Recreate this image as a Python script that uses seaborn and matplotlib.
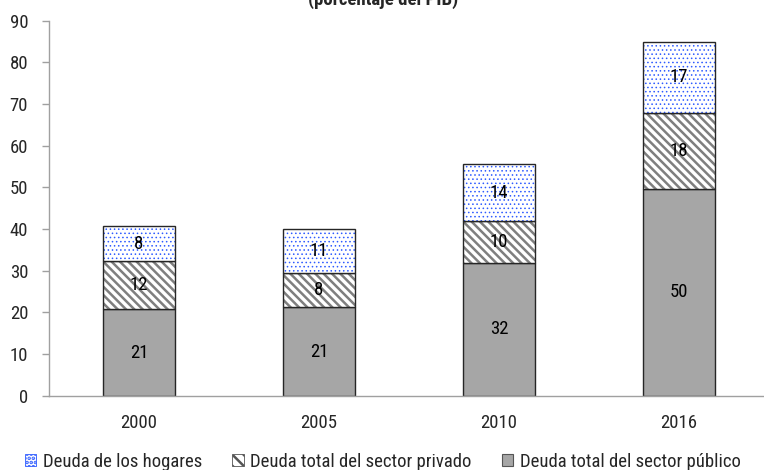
import numpy as np
import pandas as pd
import matplotlib
matplotlib.use('Agg')
import matplotlib.pyplot as plt
from matplotlib import font_manager
from matplotlib.patches import Patch
import seaborn as sns

# data (percent of GDP)
years = ['2000', '2005', '2010', '2016']
publico = [20.7, 21.2, 31.8, 49.6]
privado = [11.6, 8.2, 10.1, 18.2]
hogares = [8.4, 10.6, 13.7, 17.2]

lab_hog = 'Deuda de los hogares'
lab_priv = 'Deuda total del sector privado'
lab_pub = 'Deuda total del sector público'
subtitle = '(porcentaje del PIB)'

sns.set_style('white')
names = {f.name for f in font_manager.fontManager.ttflist}
condensed = [n for n in ['Roboto Condensed', 'Liberation Sans Narrow', 'Open Sans Condensed',
                         'DejaVu Sans Condensed'] if n in names]
plt.rcParams['font.family'] = condensed + ['DejaVu Sans']
fs = 13.5
plt.rcParams['font.size'] = fs

df = pd.DataFrame({'year': years, 'publico': publico, 'privado': privado, 'hogares': hogares})
df['base_hog'] = df['publico'] + df['privado']

grey = '#a6a6a6'
edge = '#262626'
axis_col = '#a0a0a0'
bw = 0.405

fig = plt.figure(figsize=(7.64, 4.70), dpi=100)
ax = fig.add_axes([49 / 764, 74.3 / 470, 720 / 764, 375 / 470])


def layer(y, bottom=None):
    n0 = len(ax.patches)
    kws = {} if bottom is None else {'bottom': bottom}
    sns.barplot(data=df, x='year', y=y, width=bw, errorbar=None, saturation=1,
                color=grey, ax=ax, **kws)
    return ax.patches[n0:]


def hatch_lw(p, lw):
    if hasattr(p, 'set_hatch_linewidth'):
        p.set_hatch_linewidth(lw)


# sector publico
for p in layer('publico'):
    p.set_facecolor(grey)
    p.set_edgecolor(edge)
    p.set_linewidth(1.0)

# sector privado: hatch layer + outline layer
plt.rcParams['hatch.linewidth'] = 1.8
for p in layer('privado', df['publico']):
    p.set_facecolor('white')
    p.set_hatch('\\\\\\\\')
    p.set_edgecolor('#7f7f7f')
    p.set_linewidth(0)
    hatch_lw(p, 1.8)
for p in layer('privado', df['publico']):
    p.set_facecolor('none')
    p.set_edgecolor(edge)
    p.set_linewidth(1.0)

# hogares: dotted layer + outline layer
for p in layer('hogares', df['base_hog']):
    p.set_facecolor('white')
    p.set_hatch('....')
    p.set_edgecolor('#2f5cff')
    p.set_linewidth(0)
    hatch_lw(p, 0.6)
for p in layer('hogares', df['base_hog']):
    p.set_facecolor('none')
    p.set_edgecolor(edge)
    p.set_linewidth(1.0)

# value labels in the middle of each segment
for i in range(len(years)):
    for val, base in [(publico[i], 0), (privado[i], publico[i]), (hogares[i], publico[i] + privado[i])]:
        ax.text(i, base + val / 2, f'{val:.0f}', ha='center', va='center', fontsize=fs, color='black')

ax.set_xlim(-0.5, 3.5)
ax.set_ylim(0, 90)
ax.set_yticks(range(0, 91, 10))
ax.set_xlabel('')
ax.set_ylabel('')
ax.set_xticks(np.arange(-0.5, 3.6, 1.0), minor=True)
ax.tick_params(axis='x', which='major', length=0, pad=13.5, labelsize=fs)
ax.tick_params(axis='x', which='minor', length=4.5, width=1, color=axis_col, direction='out')
ax.tick_params(axis='y', length=5, width=1, color=axis_col, direction='out', pad=10, labelsize=fs, left=True)
for s in ['top', 'right']:
    ax.spines[s].set_visible(False)
for s in ['left', 'bottom']:
    ax.spines[s].set_color(axis_col)
    ax.spines[s].set_linewidth(1)

fig.text(383 / 764, 465 / 470, subtitle, ha='center', va='baseline', fontsize=fs, fontweight='bold')

handles = [
    Patch(facecolor='white', edgecolor='#2f5cff', hatch='....', linewidth=0.6, label=lab_hog),
    Patch(facecolor='white', edgecolor='#555555', hatch='\\\\\\', linewidth=0.6, label=lab_priv),
    Patch(facecolor=grey, edgecolor='#555555', linewidth=0.8, label=lab_pub),
]
fig.legend(handles=handles, loc='center left', bbox_to_anchor=(25 / 764, 8 / 470), ncol=3,
           frameon=False, fontsize=fs, handlelength=0.6, handleheight=0.6, handletextpad=0.35,
           columnspacing=1.62, borderpad=0, borderaxespad=0)

fig.savefig('out.png', dpi=100)
